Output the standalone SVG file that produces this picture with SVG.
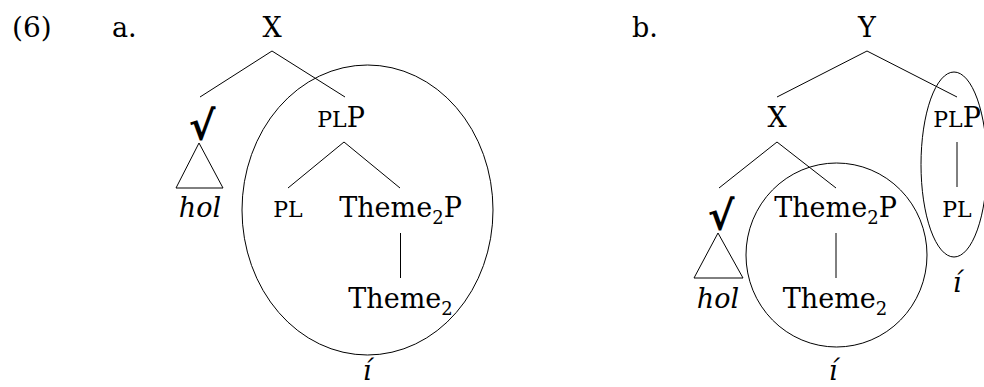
<svg xmlns="http://www.w3.org/2000/svg" width="984" height="387" viewBox="0 0 984 387">
<style>
text{font-family:"DejaVu Serif","Liberation Serif",serif;font-size:27px;fill:#000}
.it{font-style:italic}
.m{text-anchor:middle}
.sc{font-size:22px}
.sub{font-size:18px}
.rt{font-family:"DejaVu Sans",sans-serif;font-size:40px;font-weight:bold}
line,polygon,ellipse{fill:none;stroke:#000;stroke-width:1}
</style>
<rect width="984" height="387" fill="#fff"/>
<text x="12" y="37" style="font-size:28px">(6)</text>
<text x="112" y="37">a.</text>
<text x="632" y="37">b.</text>
<g id="connectors">
<line x1="272" y1="51" x2="200" y2="97"/>
<line x1="272" y1="51" x2="345" y2="97"/>
<line x1="344" y1="142" x2="288" y2="188"/>
<line x1="344" y1="142" x2="400" y2="188"/>
<line x1="400.5" y1="233" x2="400.5" y2="278"/>
<line x1="867" y1="51" x2="777" y2="97"/>
<line x1="867" y1="51" x2="957" y2="97"/>
<line x1="777" y1="142" x2="719" y2="188"/>
<line x1="777" y1="142" x2="836" y2="188"/>
<line x1="957" y1="142" x2="957" y2="187"/>
<line x1="836" y1="233" x2="836" y2="278"/>
</g>
<g id="a-X"><text class="m" x="272" y="37">X</text></g>
<g id="a-root"><text class="m rt" x="202" y="140">√</text><polygon points="199,143 176,188 223,188"/><text class="m it" x="200" y="217">hol</text></g>
<g id="a-PLP"><text class="m" x="341" y="127"><tspan class="sc">PL</tspan>P</text></g>
<g id="a-PL"><text class="m sc" x="288" y="217">PL</text></g>
<g id="a-Theme2P"><text class="m" x="400.5" y="217">Theme<tspan class="sub" dy="7">2</tspan><tspan dy="-7">P</tspan></text></g>
<g id="a-Theme2"><text class="m" x="400.5" y="308">Theme<tspan class="sub" dy="7">2</tspan></text></g>
<g id="a-circle"><ellipse cx="367.5" cy="210" rx="125.5" ry="145"/><text class="m it" x="367" y="380">í</text></g>
<g id="b-Y"><text class="m" x="867" y="37">Y</text></g>
<g id="b-X"><text class="m" x="777" y="127">X</text></g>
<g id="b-PLP"><text class="m" x="957" y="127"><tspan class="sc">PL</tspan>P</text></g>
<g id="b-PL"><text class="m sc" x="957" y="217">PL</text></g>
<g id="b-ellipse"><ellipse cx="954" cy="164.5" rx="33" ry="92.5"/><text class="m it" x="957" y="292">í</text></g>
<g id="b-root"><text class="m rt" x="721" y="230">√</text><polygon points="718,233 694,278 743,278"/><text class="m it" x="718" y="308">hol</text></g>
<g id="b-Theme2P"><text class="m" x="835.5" y="217">Theme<tspan class="sub" dy="7">2</tspan><tspan dy="-7">P</tspan></text></g>
<g id="b-Theme2"><text class="m" x="835" y="308">Theme<tspan class="sub" dy="7">2</tspan></text></g>
<g id="b-circle"><ellipse cx="836.5" cy="255" rx="90.5" ry="92"/><text class="m it" x="833" y="380">í</text></g>
</svg>
